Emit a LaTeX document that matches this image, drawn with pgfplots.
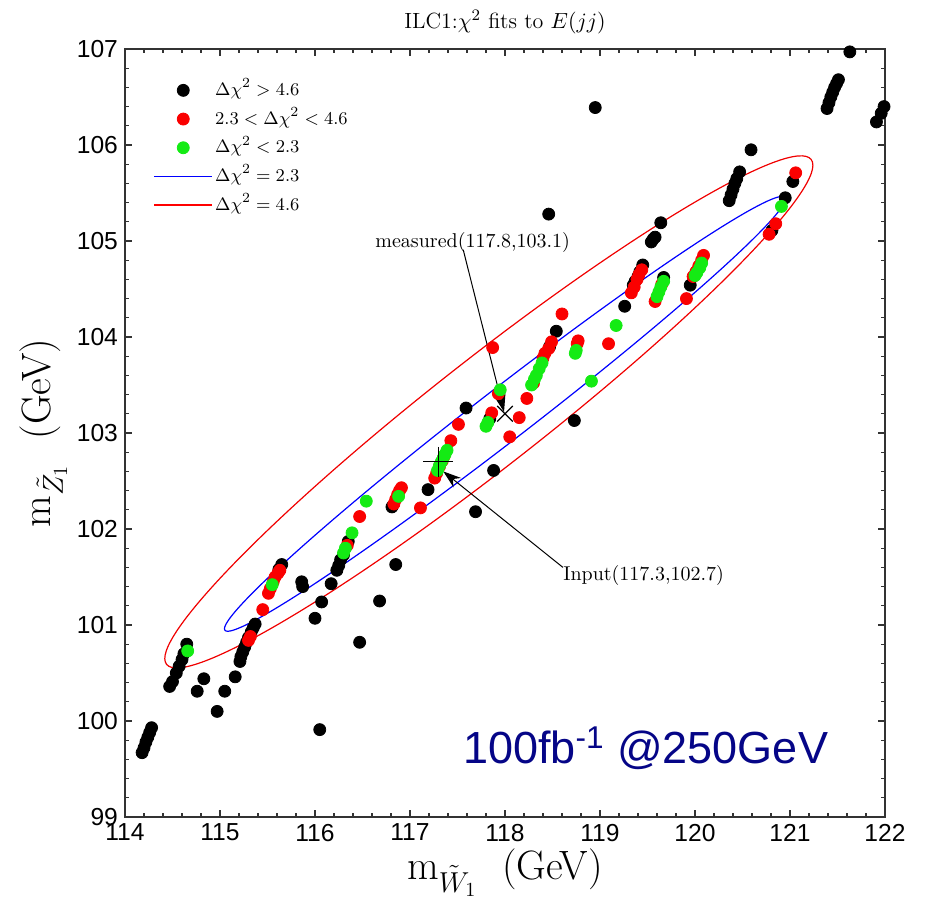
\documentclass[border=0pt]{standalone}
\usepackage{fontspec}
\usepackage{pgfplots}
\pgfplotsset{compat=1.18}
\usetikzlibrary{arrows.meta}
\newfontfamily\arialfont{Liberation Sans}
\definecolor{dotgreen}{RGB}{20,235,20}
\definecolor{dotred}{RGB}{250,0,0}
\definecolor{navytext}{RGB}{5,5,135}
\definecolor{ellred}{RGB}{240,0,0}
\pgfplotstableread{
x y
114.18 99.67
114.20 99.72
114.22 99.78
114.24 99.83
114.26 99.88
114.28 99.93
114.47 100.36
114.50 100.41
114.54 100.50
114.57 100.57
114.60 100.64
114.62 100.70
114.65 100.80
114.76 100.31
114.83 100.44
114.97 100.10
115.05 100.31
115.16 100.46
115.21 100.62
115.22 100.67
115.24 100.72
115.26 100.77
115.28 100.82
115.30 100.87
115.33 100.93
115.35 100.97
115.37 101.01
115.62 101.58
115.65 101.63
115.86 101.45
115.87 101.40
116.00 101.07
116.07 101.24
116.17 101.43
116.05 99.91
116.23 101.57
116.25 101.62
116.27 101.68
116.30 101.73
116.35 101.87
116.47 100.82
116.68 101.25
116.85 101.63
116.81 102.23
117.19 102.41
117.59 103.26
117.69 102.18
117.88 102.61
117.84 103.15
118.47 103.90
118.54 104.06
118.46 105.28
118.73 103.13
118.95 106.39
119.26 104.32
119.35 104.54
119.37 104.58
119.40 104.63
119.42 104.68
119.45 104.75
119.54 104.99
119.56 105.02
119.58 105.04
119.64 105.19
119.67 104.62
119.95 104.54
120.36 105.42
120.38 105.48
120.40 105.54
120.42 105.60
120.44 105.65
120.47 105.72
120.59 105.95
120.81 105.11
120.95 105.45
121.03 105.62
121.39 106.38
121.41 106.44
121.43 106.50
121.45 106.55
121.47 106.60
121.49 106.64
121.51 106.68
121.63 106.97
121.91 106.24
121.96 106.33
121.99 106.40
}\blackdata
\pgfplotstableread{
x y
115.30 100.84
115.32 100.88
115.45 101.16
115.51 101.33
115.53 101.38
115.56 101.45
115.58 101.50
115.61 101.54
115.63 101.57
116.34 101.83
116.47 102.13
116.83 102.26
116.85 102.31
116.87 102.36
116.89 102.40
116.91 102.43
117.11 102.22
117.26 102.53
117.28 102.58
117.31 102.65
117.34 102.71
117.36 102.76
117.43 102.92
117.51 103.09
117.86 103.21
117.87 103.89
117.93 103.41
118.05 102.96
118.15 103.16
118.23 103.36
118.30 103.52
118.40 103.78
118.42 103.83
118.46 103.88
118.49 103.95
118.60 104.24
118.76 103.93
118.77 103.96
119.09 103.93
119.33 104.46
119.36 104.52
119.39 104.60
119.41 104.65
119.44 104.70
119.58 104.37
119.65 104.55
119.91 104.40
119.98 104.63
120.01 104.68
120.04 104.74
120.07 104.80
120.09 104.85
120.78 105.07
120.85 105.18
121.06 105.71
}\reddata
\pgfplotstableread{
x y
114.66 100.73
115.55 101.42
116.30 101.75
116.32 101.80
116.39 101.96
116.54 102.29
116.88 102.34
117.29 102.61
117.31 102.66
117.33 102.70
117.35 102.74
117.37 102.78
117.39 102.82
117.80 103.07
117.82 103.11
117.95 103.45
118.28 103.50
118.31 103.56
118.33 103.60
118.36 103.67
118.39 103.73
118.74 103.83
118.75 103.86
118.91 103.54
119.17 104.12
119.60 104.42
119.62 104.47
119.64 104.52
119.67 104.58
120.00 104.64
120.02 104.67
120.05 104.72
120.07 104.77
120.91 105.36
}\greendata
\begin{document}
\begin{tikzpicture}
\useasboundingbox (-62.5pt,-41pt) rectangle (400pt,408.5pt);
\begin{axis}[
  at={(0pt,0pt)}, anchor=south west,
  scale only axis, width=380pt, height=384pt,
  xmin=114, xmax=122, ymin=99, ymax=107,
  xtick={114,115,...,122}, ytick={99,100,...,107},
  minor tick num=4,
  tick align=inside,
  major tick length=3.5pt, minor tick length=2pt,
  axis line style={black!80, line width=0.7pt},
  every tick/.style={black!80, line width=0.6pt},
  tick label style={font=\arialfont\fontsize{12.3}{14}\selectfont},
  /pgf/number format/assume math mode=true,
  /pgf/number format/1000 sep={},
  xlabel={$\mathrm{m}_{\tilde{W}_1}$\ \ (GeV)},
  ylabel={$\mathrm{m}_{\tilde{Z}_1}$\ \ (GeV)},
  label style={font=\fontsize{20.5}{24}\selectfont},
  xlabel style={yshift=3pt},
  ylabel style={yshift=-2pt},
  title={ILC1:$\chi^2$ fits to $E(jj)$},
  title style={font=\fontsize{11}{13}\selectfont, yshift=-2pt},
  legend style={draw=none, fill=none, at={(axis description cs:0.0368,0.961)}, anchor=north west,
    inner sep=0pt, font=\fontsize{9.5}{11}\selectfont, row sep=3.35pt,
    nodes={inner sep=1pt, text height=7pt, text depth=2pt}},
  legend cell align=left,
  legend image code/.code={\draw[mark repeat=2,mark phase=2,#1] plot coordinates {(0pt,0pt) (14.5pt,0pt) (29pt,0pt)};},
]
\addplot[only marks, mark=*, mark size=3pt, black, forget plot] table {\blackdata};
\addplot[only marks, mark=*, mark size=3pt, dotred, forget plot] table {\reddata};
\addplot[only marks, mark=*, mark size=3pt, dotgreen, forget plot] table {\greendata};
\draw[blue, line width=0.6pt, rotate around={37.7:(axis cs:118.0,103.2)}] (axis cs:118.0,103.2) ellipse [x radius=177pt, y radius=13pt];
\draw[ellred, line width=0.6pt, rotate around={38.07:(axis cs:117.83,103.22)}] (axis cs:117.83,103.22) ellipse [x radius=204.7pt, y radius=27.1pt];
\addplot[only marks, mark=+, mark size=7.5pt, black, line width=0.6pt, forget plot] coordinates {(117.3,102.7)};
\addplot[only marks, mark=x, mark size=5.5pt, black, line width=0.6pt, forget plot] coordinates {(118.0,103.2)};
\draw[-{Stealth[length=9pt,width=6pt]}, line width=0.5pt] (axis cs:117.56,104.91) -- (axis cs:117.99,103.22);
\draw[-{Stealth[length=9pt,width=6pt]}, line width=0.5pt] (axis cs:118.61,101.60) -- (axis cs:117.35,102.60);
\node[font=\fontsize{10}{12}\selectfont] at (axis cs:117.66,104.98) {measured(117.8,103.1)};
\node[anchor=west, inner sep=0pt, font=\fontsize{10}{12}\selectfont] at (axis cs:118.61,101.52) {Input(117.3,102.7)};
\node[font=\arialfont\fontsize{22.5}{26}\selectfont, text=navytext] at (axis cs:119.48,99.72) {100fb\textsuperscript{-1} @250GeV};
\addlegendimage{only marks, mark=*, mark size=3pt, black}
\addlegendentry{$\Delta\chi^2>4.6$}
\addlegendimage{only marks, mark=*, mark size=3pt, dotred}
\addlegendentry{$2.3<\Delta\chi^2<4.6$}
\addlegendimage{only marks, mark=*, mark size=3pt, dotgreen}
\addlegendentry{$\Delta\chi^2<2.3$}
\addlegendimage{legend image code/.code={\draw[draw=blue, line width=0.6pt] (0pt,0pt) -- (29pt,0pt);}}
\addlegendentry{$\Delta\chi^2=2.3$}
\addlegendimage{legend image code/.code={\draw[draw=red, line width=0.9pt] (0pt,0pt) -- (29pt,0pt);}}
\addlegendentry{$\Delta\chi^2=4.6$}
\end{axis}
\end{tikzpicture}
\end{document}
